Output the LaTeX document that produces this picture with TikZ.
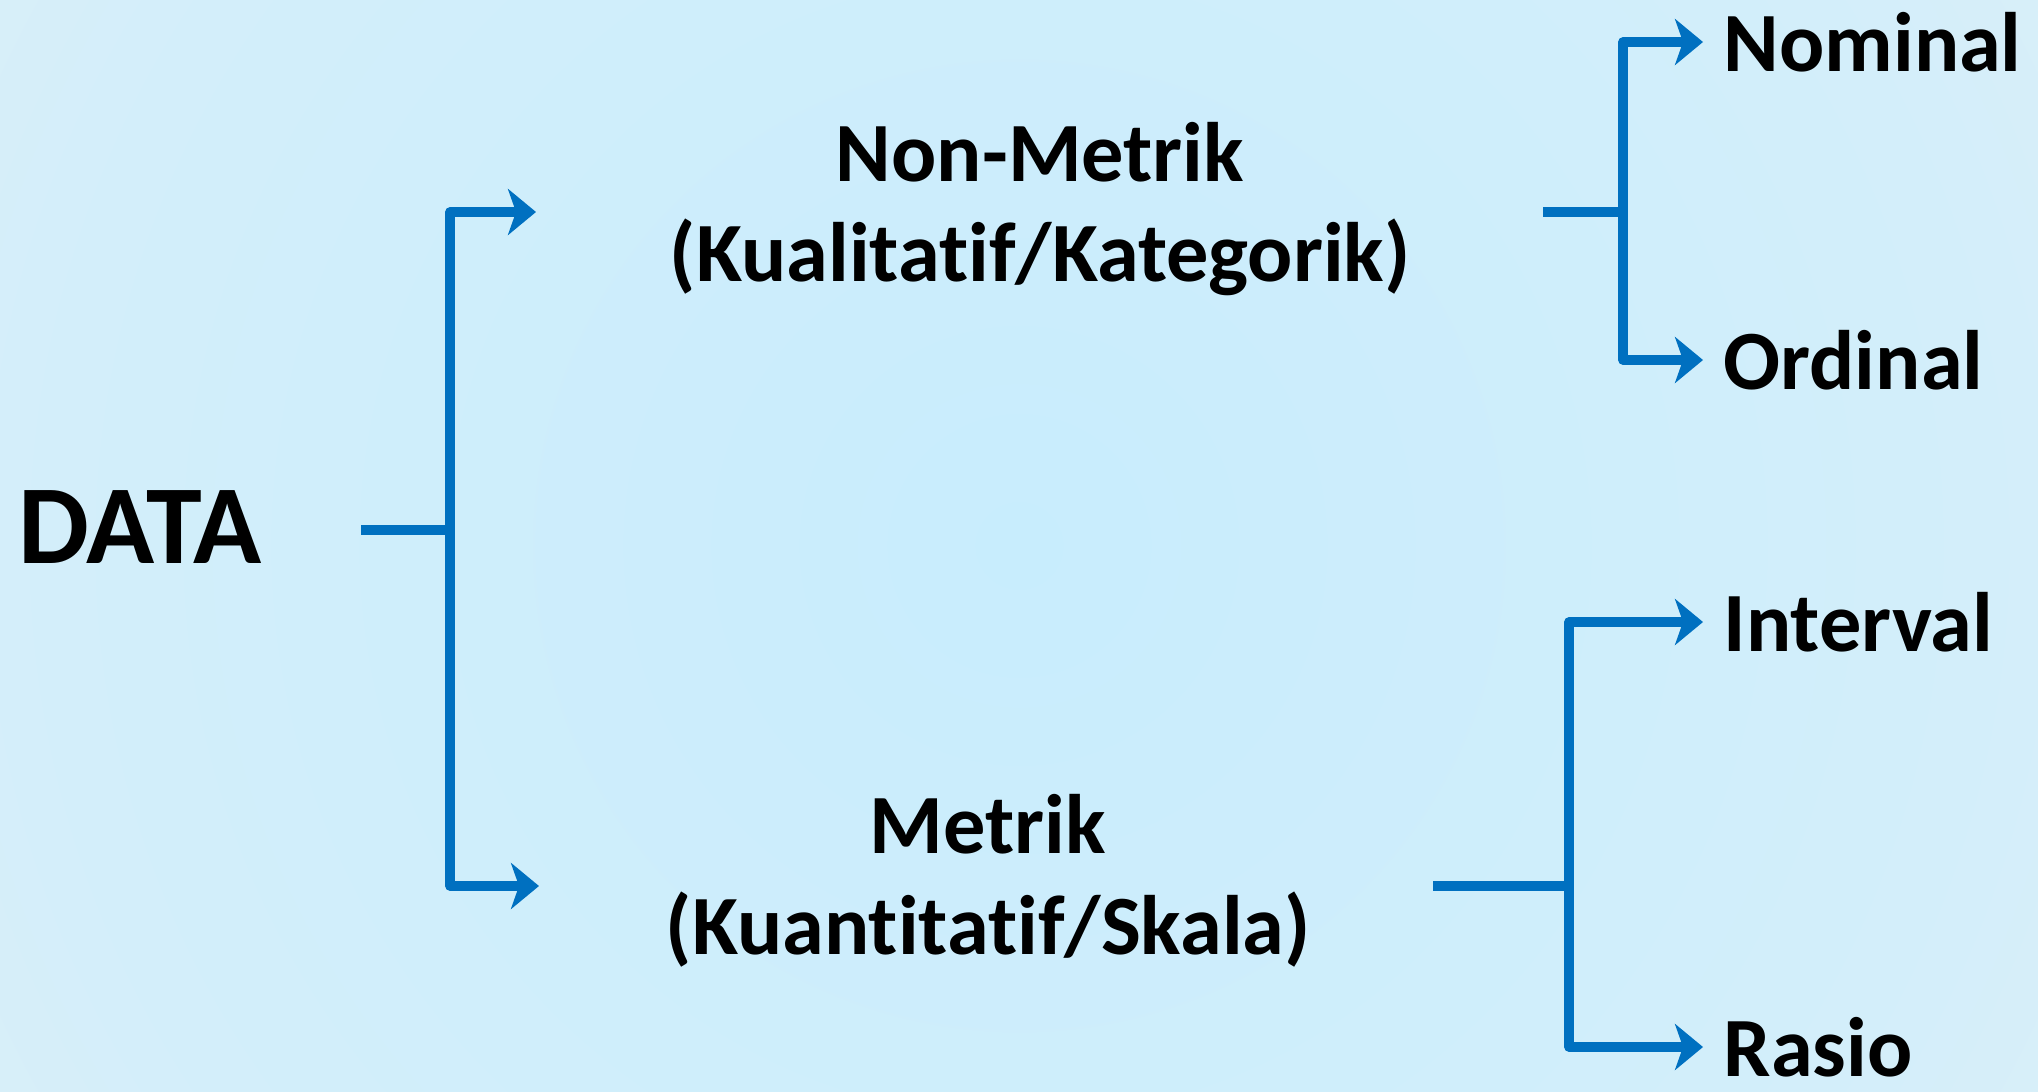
\documentclass[tikz,border=0pt]{standalone}
\usepackage{fontspec}
\setmainfont{Carlito}[Ligatures=NoCommon]
\usetikzlibrary{arrows.meta, positioning, calc}
\definecolor{linkblue}{RGB}{0,112,192}
\definecolor{glowin}{RGB}{200,237,253}
\definecolor{glowmid}{RGB}{211,238,250}
\definecolor{glowedge}{RGB}{232,241,245}
\definecolor{glowout}{RGB}{237,241,244}
\pgfdeclareradialshading{bgglow}{\pgfpoint{0bp}{0bp}}{color(0bp)=(glowin); color(22bp)=(glowmid); color(43bp)=(glowedge); color(52bp)=(glowout); color(60bp)=(glowout)}

\begin{document}
\begin{tikzpicture}[
    every node/.style={font=\bfseries},
    link/.style={linkblue, line width=2.6pt, line join=round},
    branch/.style={link, -{Stealth[length=0.28cm, width=0.46cm, inset=0.08cm]}},
    leaf/.style={anchor=west, inner xsep=0.20cm, inner ysep=0pt, font=\fontsize{24}{28}\selectfont\bfseries},
    group/.style={align=center, font=\fontsize{24}{28.7}\selectfont\bfseries}
]

    % --- background ---
    \begin{scope}
        \clip (0,0) rectangle (20.38,-10.91);
        \shade[shading=bgglow] (-0.81,5.545) rectangle (21.19,-16.455);
    \end{scope}
    \useasboundingbox (0,0) rectangle (20.38,-10.91);

    % --- root: DATA ---
    \node[font=\fontsize{32}{36}\selectfont\bfseries, anchor=base west, inner sep=0pt] (data) at (0.18,-5.63) {DATA};
    \coordinate (dataout) at (3.61,-5.30);
    \coordinate (splitA) at (4.50,-5.30);
    \coordinate (tipNM) at (5.36,-2.12);
    \coordinate (tipM) at (5.39,-8.86);
    \draw[link] (dataout) -- (splitA);
    \draw[branch] (splitA) |- (tipNM);
    \draw[branch] (splitA) |- (tipM);

    % --- second level ---
    \node[group] (nonmetrik) at (10.40,-2.09) {Non-Metrik\\(Kualitatif/Kategorik)};
    \node[group] (metrik) at (9.88,-8.81) {Metrik\\(Kuantitatif/Skala)};

    % --- leaves ---
    \foreach \name/\txt/\y in {nominal/Nominal/-0.42, ordinal/Ordinal/-3.60,
                               interval/Interval/-6.22, rasio/Rasio/-10.47} {
        \node[leaf] (\name) at (17.03,\y) {\txt};
    }

    % Non-Metrik -> Nominal, Ordinal
    \coordinate (nmout) at (15.43,-2.12);
    \coordinate (splitB) at (16.23,-2.12);
    \draw[link] (nmout) -- (splitB);
    \foreach \leaf in {nominal, ordinal}
        \draw[branch] (splitB) |- (\leaf.west);

    % Metrik -> Interval, Rasio
    \coordinate (mout) at (14.33,-8.86);
    \coordinate (splitC) at (15.69,-8.86);
    \draw[link] (mout) -- (splitC);
    \foreach \leaf in {interval, rasio}
        \draw[branch] (splitC) |- (\leaf.west);

\end{tikzpicture}
\end{document}
